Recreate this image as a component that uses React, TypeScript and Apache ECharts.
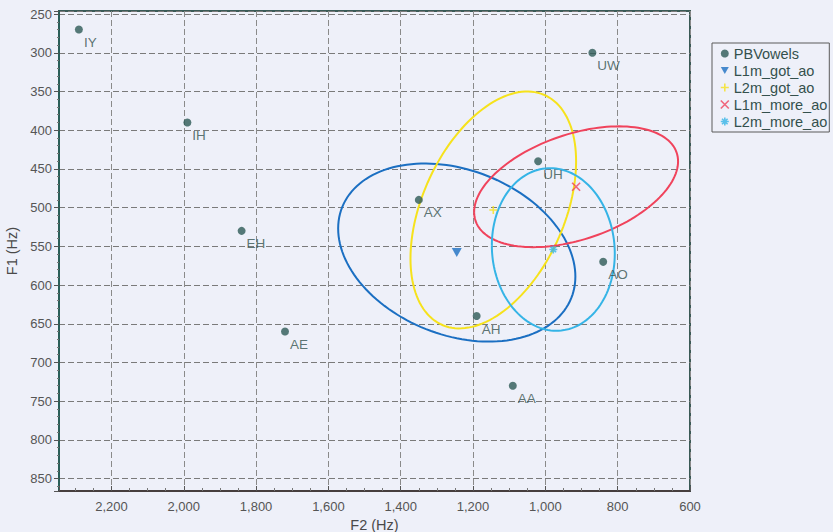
import { useEffect, useRef } from "react";
import * as echarts from "echarts";

// Peterson & Barney vowel means (adult male), F1/F2 in Hz
const vowelLabels = ["IY", "IH", "EH", "AE", "AH", "AA", "AO", "UH", "UW", "AX"];
const vowelF2 = [2290, 1990, 1840, 1720, 1190, 1090, 840, 1020, 870, 1350];
const vowelF1 = [270, 390, 530, 660, 640, 730, 570, 440, 300, 490];

// Speaker-group means and their confidence ellipses
const groupNames = ["L1m_got_ao", "L2m_got_ao", "L1m_more_ao", "L2m_more_ao"];
const meanF2 = [1245, 1144, 915, 978];
const meanF1 = [558, 503, 473, 554];
const spreadF2 = [328, 229, 282, 170];
const spreadF1 = [115, 153, 78, 105];
const correlation = [-0.27, 0.41, 0.42, -0.05];

const groupColors = ["#1b6fc2", "#f6e21c", "#f0435c", "#35b4e6"];
const groupSymbols = [
  "path://M0,0 L10,0 L5,9 Z",
  "path://M5,0 L5,10 M0,5 L10,5",
  "path://M0,0 L10,10 M10,0 L0,10",
  "path://M5,0 L5,10 M0,5 L10,5 M1.5,1.5 L8.5,8.5 M8.5,1.5 L1.5,8.5",
];
const groupFilled = [true, false, false, false];

const dotColor = "#2d5a56";
const FONT = "'Liberation Sans', Arial, sans-serif";

export default function App() {
  const ref = useRef<HTMLDivElement>(null);

  useEffect(() => {
    if (!ref.current) return;
    document.body.style.margin = "0";
    document.body.style.background = "#eef0f9";
    const chart = echarts.init(ref.current, undefined, { renderer: "svg" });

    const ellipseSeries = groupNames.map((name, i) => ({
      name: name + " ellipse",
      type: "custom",
      silent: true,
      z: 2,
      encode: { x: 0, y: 1 },
      data: [[meanF2[i], meanF1[i], spreadF2[i], spreadF1[i], correlation[i]]],
      renderItem: (_p: any, api: any) => {
        const c2 = api.value(0);
        const c1 = api.value(1);
        const s2 = api.value(2);
        const s1 = api.value(3);
        const r = api.value(4);
        const k = Math.sqrt(1 - r * r);
        const pts: number[][] = [];
        for (let j = 0; j <= 144; j++) {
          const t = (j / 144) * Math.PI * 2;
          pts.push(
            api.coord([c2 + s2 * Math.cos(t), c1 + s1 * (r * Math.cos(t) + k * Math.sin(t))])
          );
        }
        return {
          type: "polyline",
          shape: { points: pts },
          style: { stroke: groupColors[i], fill: null, lineWidth: 2 },
        };
      },
    }));

    const meanSeries = groupNames.map((name, i) => ({
      name,
      type: "scatter",
      z: 4,
      symbol: groupSymbols[i],
      symbolSize: i === 0 ? [10, 9] : 8,
      itemStyle: groupFilled[i]
        ? { color: groupColors[i] }
        : { color: "transparent", borderColor: groupColors[i], borderWidth: 1.6 },
      data: [[meanF2[i], meanF1[i]]],
    }));

    const legendData = [
      { name: "PBVowels", icon: "circle", itemStyle: { color: dotColor } },
      ...groupNames.map((name, i) => ({
        name,
        icon: groupSymbols[i],
        itemStyle: groupFilled[i]
          ? { color: groupColors[i], borderWidth: 0 }
          : { color: "transparent", borderColor: groupColors[i], borderWidth: 1.6 },
      })),
    ];

    chart.setOption({
      animation: false,
      backgroundColor: "transparent",
      textStyle: { fontFamily: FONT },
      grid: {
        left: 59,
        right: 143,
        top: 11,
        bottom: 41,
        containLabel: false,
        outerBoundsMode: "none",
        show: true,
        borderColor: "#3a5a56",
        borderWidth: 2,
        backgroundColor: "transparent",
      },
      legend: {
        orient: "vertical",
        left: 712,
        top: 43,
        padding: [2, 2, 2, 8],
        itemGap: 0,
        itemWidth: 8,
        itemHeight: 8,
        borderColor: "#5a5a5a",
        borderWidth: 1,
        borderRadius: 0,
        textStyle: { fontSize: 14.5, color: "#34504d", lineHeight: 17, fontFamily: FONT },
        data: legendData,
      },
      xAxis: {
        type: "value",
        inverse: true,
        min: 600,
        max: 2345,
        splitNumber: 9,
        name: "F2 (Hz)",
        nameLocation: "middle",
        nameGap: 13,
        nameTextStyle: { fontSize: 14.5, color: "#4a4a4a", fontFamily: FONT },
        axisLine: { show: true, lineStyle: { color: "#463e3e", width: 2 } },
        axisTick: { show: true, inside: true, length: 5, lineStyle: { color: "#555" } },
        minorTick: { show: true, splitNumber: 4, length: 3, lineStyle: { color: "#777" } },
        axisLabel: {
          margin: 9,
          fontSize: 13,
          color: "#555",
          fontFamily: FONT,
          showMaxLabel: false,
          formatter: (v: number) => v.toLocaleString("en-US"),
        },
        splitLine: { show: true, lineStyle: { type: [6, 3], color: "#8a8a8a", width: 1 } },
      },
      yAxis: {
        type: "value",
        inverse: true,
        min: 246,
        max: 866,
        splitNumber: 12,
        name: "F1 (Hz)",
        nameLocation: "middle",
        nameGap: 34,
        nameRotate: 90,
        nameTextStyle: { fontSize: 14.5, color: "#4a4a4a", fontFamily: FONT },
        axisLine: { show: true, lineStyle: { color: "#2a5e58", width: 2 } },
        axisTick: { show: true, inside: false, length: 5, lineStyle: { color: "#555" } },
        minorTick: { show: true, splitNumber: 5, length: 2, lineStyle: { color: "#777" } },
        axisLabel: {
          margin: 7,
          fontSize: 13,
          color: "#555",
          fontFamily: FONT,
          showMinLabel: false,
          showMaxLabel: false,
        },
        splitLine: { show: true, lineStyle: { type: [6, 3], color: "#7a7a7a", width: 1.2 } },
      },
      series: [
        {
          name: "PBVowels",
          type: "scatter",
          z: 3,
          symbol: "circle",
          symbolSize: 8,
          itemStyle: { color: dotColor },
          label: {
            show: true,
            position: [9, 17],
            align: "left",
            verticalAlign: "middle",
            fontSize: 13.5,
            color: "#35524f",
            fontFamily: FONT,
            formatter: (p: any) => vowelLabels[p.dataIndex],
          },
          data: vowelF2.map((f2, i) => [f2, vowelF1[i]]),
        },
        ...ellipseSeries,
        ...meanSeries,
      ],
    });

    return () => chart.dispose();
  }, []);

  return (
    <div
      ref={ref}
      style={{
        position: "fixed",
        left: 0,
        top: 0,
        width: 833,
        height: 532,
        background: "#eef0f9",
      }}
    />
  );
}
